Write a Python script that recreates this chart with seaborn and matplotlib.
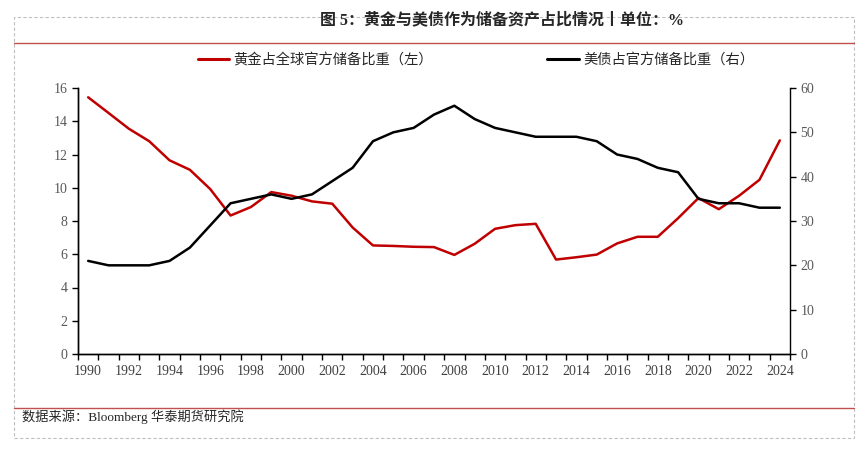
import pandas as pd
import matplotlib
matplotlib.use("Agg")
import matplotlib.pyplot as plt
from matplotlib.lines import Line2D
from matplotlib.patches import Rectangle
import seaborn as sns
import numpy as np

# data
years = list(range(1990, 2025))
gold_share = [15.44, 14.5, 13.55, 12.8, 11.65, 11.08, 9.92, 8.33, 8.84, 9.74,
              9.52, 9.18, 9.04, 7.61, 6.53, 6.5, 6.45, 6.43, 5.96, 6.63,
              7.53, 7.75, 7.83, 5.68, 5.82, 5.98, 6.65, 7.05, 7.05, 8.17,
              9.38, 8.71, 9.52, 10.48, 12.85]
ust_share = [21, 20, 20, 20, 21, 24, 29, 34, 35, 36,
             35, 36, 39, 42, 48, 50, 51, 54, 56, 53,
             51, 50, 49, 49, 49, 48, 45, 44, 42, 41,
             35, 34, 34, 33, 33]
gold_label = "黄金占全球官方储备比重（左）"
ust_label = "美债占官方储备比重（右）"
title = "图 5：黄金与美债作为储备资产占比情况丨单位：%"
source = "数据来源：Bloomberg 华泰期货研究院"

sns.set_style("white")
plt.rcParams['font.family'] = ['Liberation Serif', 'Noto Sans CJK SC', 'DejaVu Sans']

df = pd.DataFrame({"year": years, "gold": gold_share, "ust": ust_share})

fig = plt.figure(figsize=(8.67, 4.49), dpi=100)
ax = fig.add_axes([78 / 867, 1 - 354 / 449, 712 / 867, 266 / 449])
ax2 = ax.twinx()

sns.lineplot(data=df, x="year", y="gold", ax=ax, color="#C00000", lw=1.8, label=gold_label, legend=False)
sns.lineplot(data=df, x="year", y="ust", ax=ax2, color="#000000", lw=1.8, label=ust_label, legend=False)

ax.set_xlim(1989.5, 2024.5)
ax.set_ylim(0, 16)
ax2.set_ylim(0, 60)
ax.set_yticks(np.arange(0, 17, 2))
ax2.set_yticks(np.arange(0, 61, 10))
ax.set_xticks(years[::2])
ax.set_xticks(np.arange(1989.5, 2025, 1), minor=True)
ax.tick_params(axis="x", which="major", length=0, pad=8, labelsize=10, labelcolor="#404040")
ax.tick_params(axis="x", which="minor", length=4, width=1, direction="out", bottom=True, color="black")
ax.tick_params(axis="y", length=4, width=1, direction="out", left=True, labelsize=10, labelcolor="#595959", color="black")
ax2.tick_params(axis="y", length=4, width=1, direction="out", right=True, labelsize=10, labelcolor="#595959", color="black")
ax.set_xlabel("")
ax.set_ylabel("")
ax2.set_ylabel("")

for a in (ax, ax2):
    a.spines["top"].set_visible(False)
    for s in ("left", "right", "bottom"):
        a.spines[s].set_color("black")
        a.spines[s].set_linewidth(1)
ax.spines["right"].set_visible(False)

handles = [Line2D([], [], color="#C00000", lw=2.2), Line2D([], [], color="#000000", lw=2.2)]
fig.legend(handles, [gold_label, ust_label], loc="center", bbox_to_anchor=(476 / 867, 1 - 60 / 449),
           ncol=2, frameon=False, handlelength=2.2, handletextpad=0.3, columnspacing=8.0,
           prop={"family": ["Noto Sans CJK SC"], "size": 10.3})

fig.text(502 / 867, 1 - 20 / 449, title, ha="center", va="center", fontsize=11.5, fontweight="bold",
         family=["Liberation Serif", "Noto Sans CJK SC"])
fig.text(22 / 867, 1 - 417 / 449, source, ha="left", va="center", fontsize=9.5)

fig.add_artist(Line2D([14 / 867, 854 / 867], [1 - 43 / 449, 1 - 43 / 449], color="#C0504D", lw=1))
fig.add_artist(Line2D([14 / 867, 854 / 867], [1 - 408 / 449, 1 - 408 / 449], color="#C0504D", lw=1))
fig.add_artist(Rectangle((14 / 867, 1 - 438 / 449), 840 / 867, 421 / 449, transform=fig.transFigure,
                         fill=False, ls=(0, (3, 2)), lw=0.8, edgecolor="#BFBFBF"))

fig.savefig("out.png", dpi=100)
